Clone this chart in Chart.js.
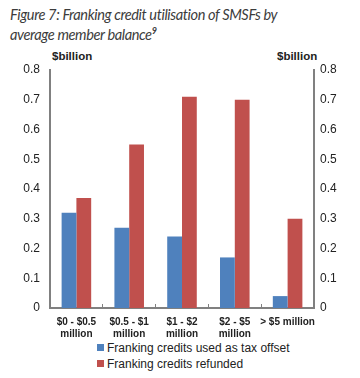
<!DOCTYPE html>
<html><head><meta charset="utf-8">
<script src="https://cdn.jsdelivr.net/npm/chart.js@4.4.1/dist/chart.umd.min.js"></script>
<style>
html,body{margin:0;padding:0;background:#fff;}
#wrap{position:relative;width:360px;height:378px;overflow:hidden;}
#title{position:absolute;left:10px;top:5px;font-family:Lato,"Open Sans",sans-serif;font-style:italic;font-size:14.6px;letter-spacing:-0.4px;line-height:20px;color:#3c3c3c;white-space:nowrap;}
#title sup{font-size:9px;vertical-align:6px;line-height:0;font-weight:bold;}
.unit{position:absolute;top:50px;font-family:"Liberation Sans",Arial,sans-serif;font-weight:bold;font-size:11.5px;color:#222;}
#legend{position:absolute;left:97px;top:340px;font-family:"Liberation Sans",Arial,sans-serif;font-size:12px;color:#222;line-height:16px;}
#legend span.sw{display:inline-block;width:7px;height:7px;margin-right:3px;vertical-align:1px;}
canvas{position:absolute;left:0;top:0;}
</style></head>
<body><div id="wrap">
<div id="title">Figure 7: Franking credit utilisation of SMSFs by<br>average member balance<sup>9</sup></div>
<div class="unit" style="left:52px">$billion</div>
<div class="unit" style="left:277px">$billion</div>
<div id="legend"></div>
<canvas id="c" width="360" height="378"></canvas>
</div>
<script>
const categories = [["$0 - $0.5","million"],["$0.5 - $1","million"],["$1 - $2","million"],["$2 - $5","million"],"> $5 million"];
const seriesNames = ["Franking credits used as tax offset","Franking credits refunded"];
const taxOffset = [0.32, 0.27, 0.24, 0.17, 0.04];
const refunded = [0.37, 0.55, 0.71, 0.70, 0.30];
const colors = ["#4F81BD","#C0504D"];

const lg = document.getElementById('legend');
seriesNames.forEach((n,i)=>{
  const d=document.createElement('div');
  d.innerHTML='<span class="sw" style="background:'+colors[i]+'"></span>'+n;
  lg.appendChild(d);
});

const tickFont = {family:"'Liberation Sans', Arial, sans-serif", size:12};
const fmt = v => v===0 ? '0' : v.toFixed(1);
const axisBorder = {display:true,color:'#808080',width:2};

new Chart(document.getElementById('c'), {
  type:'bar',
  data:{
    labels:categories,
    datasets:[
      {label:seriesNames[0], data:taxOffset, backgroundColor:colors[0], yAxisID:'y'},
      {label:seriesNames[1], data:refunded, backgroundColor:colors[1], yAxisID:'y'}
    ]
  },
  options:{
    responsive:false, animation:false,
    layout:{padding:{top:70,bottom:40,left:0,right:0}},
    plugins:{legend:{display:false},tooltip:{enabled:false}},
    datasets:{bar:{categoryPercentage:0.56,barPercentage:1.0}},
    scales:{
      x:{
        grid:{display:true,drawOnChartArea:false,drawTicks:true,tickLength:-4,color:'#808080',lineWidth:1,offset:true},
        border:axisBorder,
        ticks:{color:'#222',font:{family:"'Liberation Sans', Arial, sans-serif",size:10,weight:'bold'},padding:12,maxRotation:0,autoSkip:false},
        afterFit(s){s.height=30;}
      },
      y:{
        position:'left',min:0,max:0.8,
        grid:{display:false,drawTicks:false},
        border:axisBorder,
        ticks:{stepSize:0.1,color:'#222',font:tickFont,padding:10,callback:fmt},
        afterFit(s){s.width=50;}
      },
      y2:{
        position:'right',min:0,max:0.8,
        grid:{display:false,drawTicks:false},
        border:axisBorder,
        ticks:{stepSize:0.1,color:'#222',font:tickFont,padding:6,callback:fmt},
        afterFit(s){s.width=46;}
      }
    }
  }
});
</script>
</body></html>
